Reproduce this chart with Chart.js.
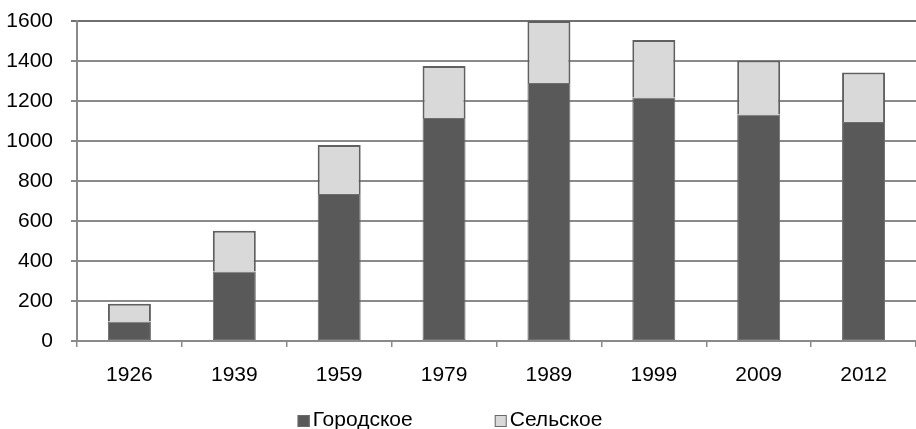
<!DOCTYPE html>
<html>
<head>
<meta charset="utf-8">
<script src="https://cdn.jsdelivr.net/npm/chart.js@4/dist/chart.umd.min.js"></script>
<style>
  html, body { margin: 0; padding: 0; background: #fff; }
  #wrap { width: 916px; height: 429px; }
</style>
</head>
<body>
<div id="wrap"><canvas id="popChart" width="916" height="429"></canvas></div>
<script>
// Data (thousands)
const years = ["1926", "1939", "1959", "1979", "1989", "1999", "2009", "2012"];
const urban = [97, 348, 735, 1115, 1290, 1218, 1132, 1095];
const rural = [89, 203, 245, 260, 310, 287, 270, 248];
const yTicks = [0, 200, 400, 600, 800, 1000, 1200, 1400, 1600];

const gridColor = "#8a8a8a";
const fontFamily = "'Liberation Sans', Arial, sans-serif";
const textFont = { family: fontFamily, size: 21 };

// Legend drawn by hand so the spacing matches (small box, wide gap between items)
const bottomLegend = {
  id: "bottomLegend",
  afterDraw(chart) {
    const c = chart.ctx;
    const items = chart.data.datasets;
    c.save();
    c.font = "21px " + fontFamily;
    c.textBaseline = "middle";
    const box = 12, gapText = 3, gapItem = 82;
    let total = 0;
    items.forEach((ds, i) => {
      total += box + gapText + c.measureText(ds.label).width;
      if (i < items.length - 1) total += gapItem;
    });
    let x = chart.width / 2 - 8 - total / 2;
    const y = 420;
    items.forEach(ds => {
      c.fillStyle = ds.backgroundColor;
      c.fillRect(x, y - 5, box, box);
      c.strokeStyle = "#6a6a6a";
      c.lineWidth = 1;
      c.strokeRect(x + 0.5, y - 4.5, box - 1, box - 1);
      x += box + gapText;
      c.fillStyle = "#000";
      c.fillText(ds.label, x, y);
      x += c.measureText(ds.label).width + gapItem;
    });
    c.restore();
  }
};

document.addEventListener("DOMContentLoaded", function () {
  const ctx = document.getElementById("popChart").getContext("2d");
  new Chart(ctx, {
    type: "bar",
    data: {
      labels: years,
      datasets: [
        {
          label: "Городское",
          data: urban,
          backgroundColor: "#595959",
          borderColor: "#6e6e6e",
          borderWidth: 1,
          borderSkipped: false,
          barPercentage: 0.41,
          categoryPercentage: 1
        },
        {
          label: "Сельское",
          data: rural,
          backgroundColor: "#d9d9d9",
          borderColor: "#606060",
          borderWidth: { top: 2, left: 2, right: 2, bottom: 0 },
          borderSkipped: false,
          barPercentage: 0.41,
          categoryPercentage: 1
        }
      ]
    },
    options: {
      responsive: false,
      animation: false,
      layout: { padding: { top: 21, right: 0, bottom: 24, left: 0 } },
      plugins: {
        tooltip: { enabled: false },
        legend: { display: false }
      },
      scales: {
        x: {
          stacked: true,
          grid: { display: true, drawOnChartArea: false, color: gridColor, lineWidth: 1.5, tickLength: 6 },
          border: { color: gridColor, width: 2 },
          ticks: { color: "#000", font: textFont, padding: 16 },
          afterFit: function (scale) { scale.height = 64; }
        },
        y: {
          stacked: true,
          min: 0,
          max: 1600,
          afterBuildTicks: function (scale) {
            scale.ticks = yTicks.map(v => ({ value: v }));
          },
          grid: {
            color: ctx => ctx.tick && ctx.tick.value === 1600 ? "#707070" : gridColor,
            lineWidth: 2,
            tickLength: 6
          },
          border: { color: gridColor, width: 2 },
          ticks: { color: "#000", font: textFont, padding: 18, callback: v => String(v) },
          afterFit: function (scale) {
            scale.width = 77;
            scale.paddingTop = 0;
            scale.paddingBottom = 0;
          }
        }
      }
    },
    plugins: [bottomLegend]
  });
});
</script>
</body>
</html>
